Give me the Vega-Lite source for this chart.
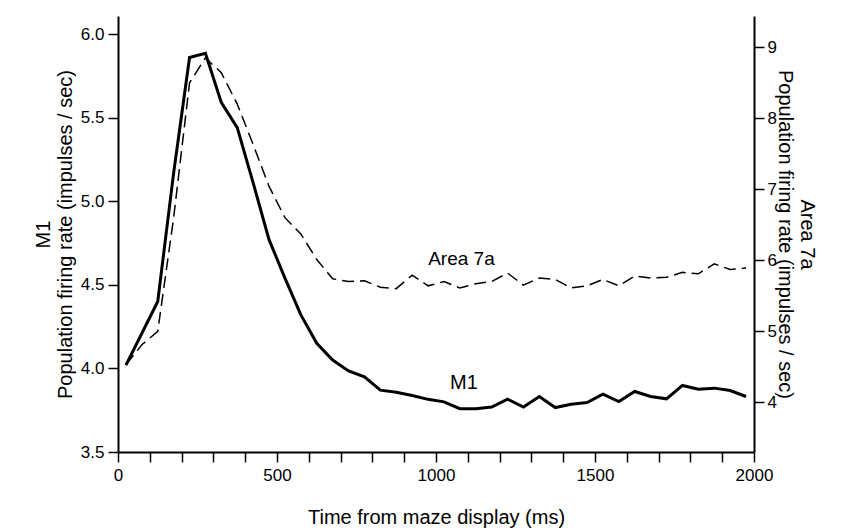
{
  "$schema": "https://vega.github.io/schema/vega-lite/v6.json",
  "width": 636,
  "height": 436,
  "autosize": {"type": "none"},
  "padding": {"left": 118, "top": 16, "right": 91, "bottom": 80},
  "background": "white",
  "config": {
    "view": {"stroke": null},
    "font": "Liberation Sans",
    "axis": {
      "grid": false,
      "domainColor": "black",
      "tickColor": "black",
      "labelColor": "black",
      "titleColor": "black",
      "labelFont": "Liberation Sans",
      "titleFont": "Liberation Sans",
      "titleFontWeight": "normal",
      "domainWidth": 2,
      "tickWidth": 1.5,
      "tickSize": 10,
      "labelFontSize": 17,
      "titleFontSize": 20,
      "labelPadding": 4,
      "labelOverlap": false,
      "labelFlush": false
    }
  },
  "datasets": {
    "m1": [
      {"t": 25, "rate": 4.02}, {"t": 125, "rate": 4.40}, {"t": 175, "rate": 5.17},
      {"t": 225, "rate": 5.86}, {"t": 275, "rate": 5.885}, {"t": 325, "rate": 5.59},
      {"t": 375, "rate": 5.44}, {"t": 425, "rate": 5.11}, {"t": 475, "rate": 4.77},
      {"t": 525, "rate": 4.54}, {"t": 575, "rate": 4.32}, {"t": 625, "rate": 4.15},
      {"t": 675, "rate": 4.05}, {"t": 725, "rate": 3.985}, {"t": 775, "rate": 3.95},
      {"t": 825, "rate": 3.87}, {"t": 875, "rate": 3.857}, {"t": 925, "rate": 3.838},
      {"t": 975, "rate": 3.815}, {"t": 1025, "rate": 3.80}, {"t": 1075, "rate": 3.759},
      {"t": 1125, "rate": 3.759}, {"t": 1175, "rate": 3.769}, {"t": 1225, "rate": 3.816},
      {"t": 1275, "rate": 3.769}, {"t": 1325, "rate": 3.832}, {"t": 1375, "rate": 3.766},
      {"t": 1425, "rate": 3.786}, {"t": 1475, "rate": 3.796}, {"t": 1525, "rate": 3.846},
      {"t": 1575, "rate": 3.802}, {"t": 1625, "rate": 3.862}, {"t": 1675, "rate": 3.832},
      {"t": 1725, "rate": 3.818}, {"t": 1775, "rate": 3.898}, {"t": 1825, "rate": 3.876},
      {"t": 1875, "rate": 3.882}, {"t": 1925, "rate": 3.868}, {"t": 1975, "rate": 3.832}
    ],
    "a7": [
      {"t": 25, "rate": 4.53}, {"t": 75, "rate": 4.81}, {"t": 125, "rate": 5.0},
      {"t": 175, "rate": 6.6}, {"t": 225, "rate": 8.5}, {"t": 275, "rate": 8.85},
      {"t": 325, "rate": 8.64}, {"t": 375, "rate": 8.2}, {"t": 425, "rate": 7.63},
      {"t": 475, "rate": 7.04}, {"t": 525, "rate": 6.60}, {"t": 575, "rate": 6.37},
      {"t": 625, "rate": 6.01}, {"t": 675, "rate": 5.74}, {"t": 725, "rate": 5.70},
      {"t": 775, "rate": 5.71}, {"t": 825, "rate": 5.62}, {"t": 875, "rate": 5.60},
      {"t": 925, "rate": 5.79}, {"t": 975, "rate": 5.64}, {"t": 1025, "rate": 5.70},
      {"t": 1075, "rate": 5.61}, {"t": 1125, "rate": 5.67}, {"t": 1175, "rate": 5.70},
      {"t": 1225, "rate": 5.82}, {"t": 1275, "rate": 5.65}, {"t": 1325, "rate": 5.75},
      {"t": 1375, "rate": 5.73}, {"t": 1425, "rate": 5.61}, {"t": 1475, "rate": 5.64},
      {"t": 1525, "rate": 5.73}, {"t": 1575, "rate": 5.64}, {"t": 1625, "rate": 5.78},
      {"t": 1675, "rate": 5.75}, {"t": 1725, "rate": 5.76}, {"t": 1775, "rate": 5.83},
      {"t": 1825, "rate": 5.81}, {"t": 1875, "rate": 5.95}, {"t": 1925, "rate": 5.87},
      {"t": 1975, "rate": 5.89}
    ],
    "m1label": [{"t": 1088, "rate": 3.91, "label": "M1"}],
    "a7label": [{"t": 1080, "rate": 6.02, "label": "Area 7a"}]
  },
  "encoding": {
    "x": {
      "field": "t", "type": "quantitative",
      "scale": {"domain": [0, 2000], "nice": false},
      "axis": {
        "title": "Time from maze display (ms)",
        "values": [0, 100, 200, 300, 400, 500, 600, 700, 800, 900, 1000, 1100, 1200, 1300, 1400, 1500, 1600, 1700, 1800, 1900, 2000],
        "format": "d",
        "labelExpr": "datum.value % 500 === 0 ? datum.label : ''",
        "labelFontSize": 17,
        "titleFontSize": 20,
        "labelPadding": 5,
        "labelOverlap": false,
        "labelFlush": false,
        "titlePadding": 24
      }
    }
  },
  "layer": [
    {
      "layer": [
        {
          "data": {"name": "m1"},
          "mark": {"type": "line", "color": "black", "strokeWidth": 3, "strokeJoin": "miter"},
          "encoding": {
            "y": {
              "field": "rate", "type": "quantitative",
              "scale": {"domain": [3.5, 6.108], "nice": false, "zero": false},
              "axis": {
                "title": ["M1", "Population firing rate (impulses / sec)"],
                "values": [3.5, 4.0, 4.5, 5.0, 5.5, 6.0],
                "format": ".1f",
                "labelFontSize": 17,
                "titleFontSize": 20,
                "labelOverlap": false,
                "titlePadding": 5
              }
            }
          }
        },
        {
          "data": {"name": "m1label"},
          "mark": {"type": "text", "fontSize": 20, "font": "Liberation Sans", "color": "black", "align": "center", "baseline": "middle"},
          "encoding": {
            "y": {"field": "rate", "type": "quantitative"},
            "text": {"field": "label"}
          }
        }
      ]
    },
    {
      "layer": [
        {
          "data": {"name": "a7"},
          "mark": {"type": "line", "color": "black", "strokeWidth": 1.5, "strokeDash": [12, 6]},
          "encoding": {
            "y": {
              "field": "rate", "type": "quantitative",
              "scale": {"domain": [3.30, 9.44], "nice": false, "zero": false},
              "axis": {
                "orient": "right",
                "title": ["Area 7a", "Population firing rate (impulses / sec)"],
                "values": [4, 5, 6, 7, 8, 9],
                "format": "d",
                "labelFontSize": 17,
                "titleFontSize": 20,
                "labelPadding": 3,
                "labelOverlap": false,
                "titlePadding": -2
              }
            }
          }
        },
        {
          "data": {"name": "a7label"},
          "mark": {"type": "text", "fontSize": 19, "font": "Liberation Sans", "color": "black", "align": "center", "baseline": "middle"},
          "encoding": {
            "y": {"field": "rate", "type": "quantitative"},
            "text": {"field": "label"}
          }
        }
      ]
    }
  ],
  "resolve": {"scale": {"y": "independent"}}
}
